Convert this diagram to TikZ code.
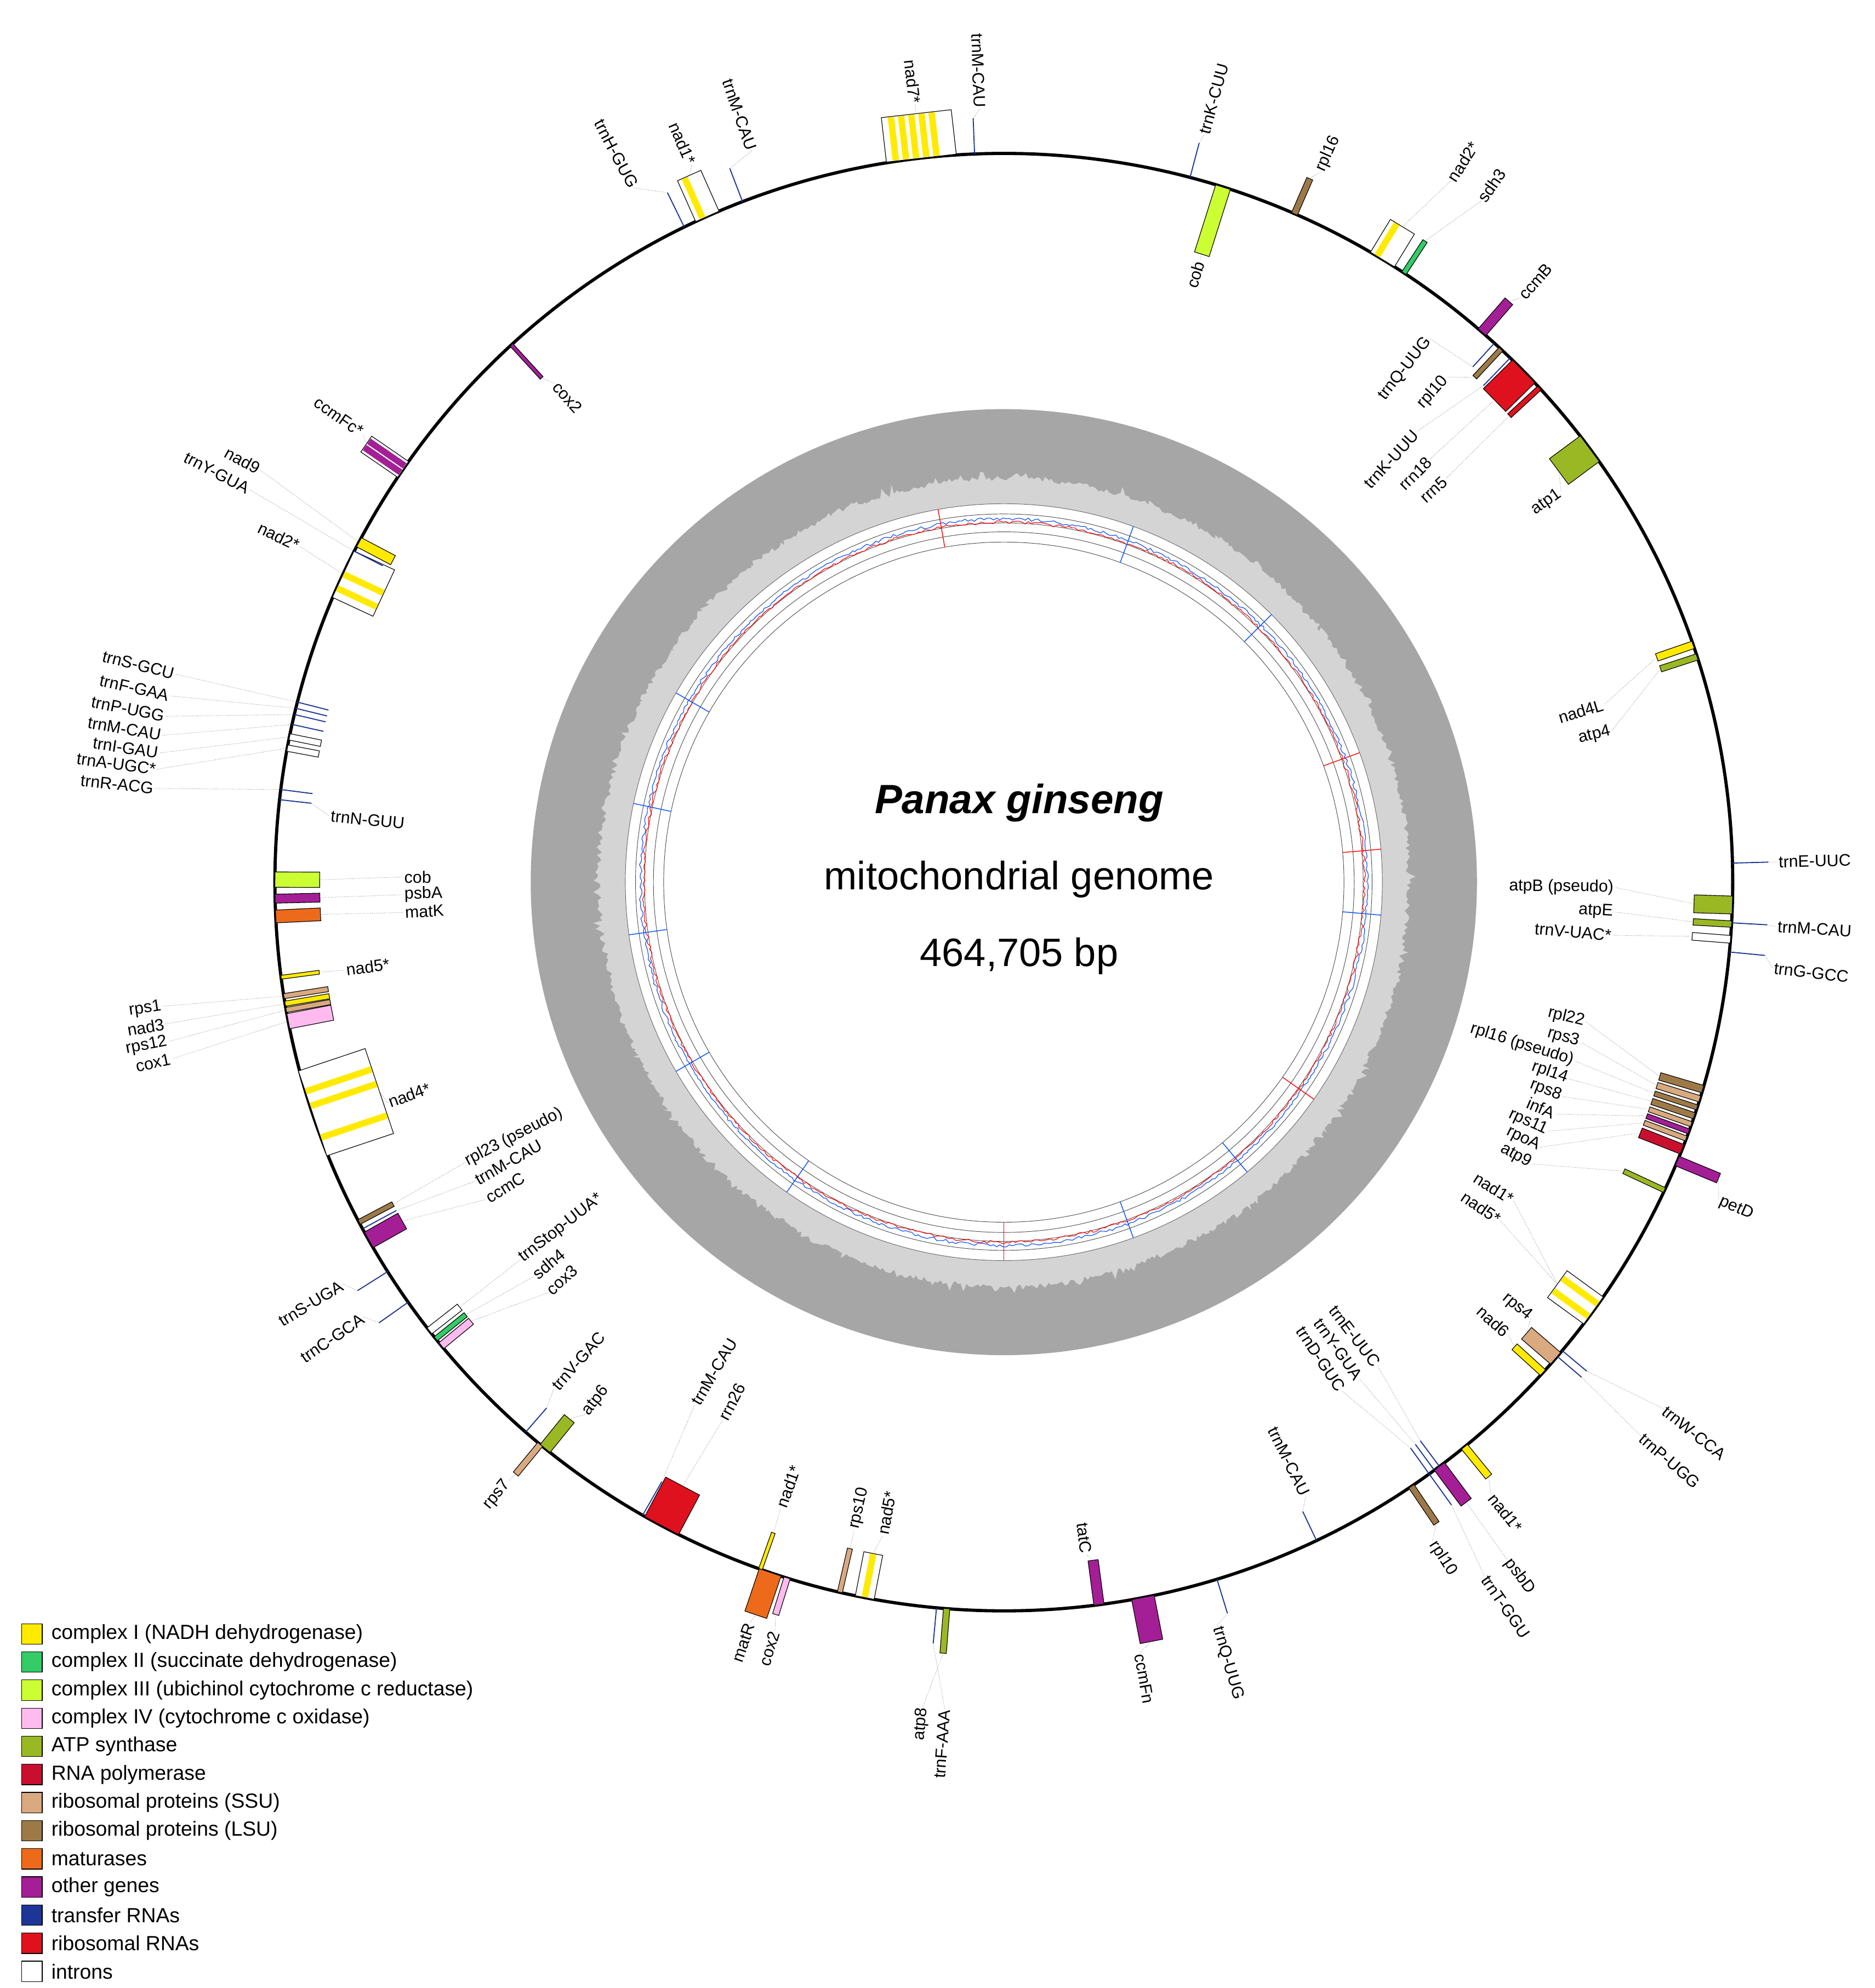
\documentclass[tikz,border=0pt]{standalone}
\usepackage{fontspec}
\setmainfont{Liberation Sans}
\definecolor{cI}{HTML}{FFEA00}
\definecolor{cII}{HTML}{33CC66}
\definecolor{cIII}{HTML}{CCFF33}
\definecolor{cIV}{HTML}{FFBBEE}
\definecolor{ATP}{HTML}{9AB824}
\definecolor{RNAP}{HTML}{C8102E}
\definecolor{SSU}{HTML}{D9A97F}
\definecolor{LSU}{HTML}{9E7948}
\definecolor{mat}{HTML}{EE6A1B}
\definecolor{other}{HTML}{A41E96}
\definecolor{tRNA}{HTML}{1C3596}
\definecolor{rRNA}{HTML}{E0111E}
\tikzset{gene/.style={draw=black,line width=0.5pt},
 trna/.style={draw=tRNA,line width=0.8pt},
 leader/.style={draw=black!60,line width=0.35pt,densely dotted},
 lab/.style={font=\fontsize{13}{14}\selectfont,inner sep=1pt},
 legtxt/.style={font=\fontsize{16}{18}\selectfont,anchor=west,inner sep=0pt}}
\newcommand\go[4]{\draw[gene,fill=#4,rotate=-#1] (-#2/2,570) rectangle (#2/2,570+#3);}
\newcommand\gi[4]{\draw[gene,fill=#4,rotate=-#1] (-#2/2,570-#3) rectangle (#2/2,570);}
\newcommand\gioi[5]{\draw[gene,fill=white,rotate=-#1] (-#2/2,570-#3) rectangle (#2/2,570);
 \foreach \s in {#5} {\fill[#4,rotate=-#1] (\s-2.5,570-#3+0.5) rectangle (\s+2.5,569.5);}}
\newcommand\gioo[5]{\draw[gene,fill=white,rotate=-#1] (-#2/2,570) rectangle (#2/2,570+#3);
 \foreach \s in {#5} {\fill[#4,rotate=-#1] (\s-2.5,570.5) rectangle (\s+2.5,570+#3-0.5);}}
\newcommand\tl[3]{\draw[trna] ({90-#1}:#2) -- ({90-#1}:#3);}
\newcommand\lo[3]{\pgfmathtruncatemacro\tmpa{#1}\ifnum\tmpa<180 \node[lab,rotate=90-#1,anchor=west] at ({90-#1}:#2) {#3};\else \node[lab,rotate=270-#1,anchor=east] at ({90-#1}:#2) {#3};\fi}
\newcommand\li[3]{\pgfmathtruncatemacro\tmpa{#1}\ifnum\tmpa<180 \node[lab,rotate=90-#1,anchor=east] at ({90-#1}:#2) {#3};\else \node[lab,rotate=270-#1,anchor=west] at ({90-#1}:#2) {#3};\fi}
\newcommand\LO[5]{\draw[leader] ({90-#1}:#2) -- ({90-#3}:#4); \lo{#3}{#4}{#5}}
\newcommand\LI[5]{\draw[leader] ({90-#1}:#2) -- ({90-#3}:#4); \li{#3}{#4}{#5}}
\begin{document}
\begin{tikzpicture}[x=1pt,y=1pt]
\useasboundingbox[fill=white] (0,0) rectangle (1466,-1555);
\begin{scope}[shift={(785,-690)}]
% inner rings
\fill[black!35] (0,0) circle (370);
\pgfmathsetseed{7}
\fill[black!17] plot[domain=0:360,samples=900] (\x:{314+4*rnd+9*rnd*rnd*rnd}) -- cycle;
\draw[black!60,line width=0.4pt,fill=white] (0,0) circle (296);
\foreach \r in {288,281,274,266} \draw[black!70,line width=0.4pt] (0,0) circle (\r);
\draw[blue!70!cyan,line width=0.5pt] plot[domain=0:360,samples=720] (\x:{283+2.5*rnd});
\draw[red,line width=0.5pt] plot[domain=0:360,samples=720] (\x:{280.5+2.5*rnd});
\foreach \a in {20,45,95,140,160,215,240,262,282,300} \draw[blue!70!cyan,line width=0.6pt] ({90-\a}:266)--({90-\a}:296);
\foreach \a in {70,85,125,180,350} \draw[red,line width=0.6pt] ({90-\a}:266)--({90-\a}:296);
% main circle
\draw[line width=2.5pt] (0,0) circle (570);
% genes
\gioo{336}{20}{35}{cI}{-4}
\tl{334}{570}{600}
\tl{339}{570}{598}
\gioo{353.5}{55}{35}{cI}{-20,-12,-4,4,12}
\tl{357.7}{570}{598}
\tl{14.8}{570}{598}
\gi{17.5}{12}{55}{cIII}
\go{23.5}{5}{30}{LSU}
\gioo{31.3}{22}{30}{cI}{-5}
\go{33.3}{4}{30}{cII}
\go{41}{8}{32}{other}
\tl{42.3}{545}{570}
\gi{43}{4}{30}{LSU}
\tl{44}{540}{570}
\gi{45.5}{25}{32}{rRNA}
\gi{47.3}{4}{32}{rRNA}
\gi{53.5}{25}{30}{ATP}
\gi{71}{6}{30}{cI}
\gi{72}{5}{30}{ATP}
\tl{88.5}{570}{598}
\gi{91.8}{14}{30}{ATP}
\gi{93.3}{5}{30}{ATP}
\gi{94.5}{6}{30}{white}
\tl{93.2}{570}{598}
\tl{95.5}{570}{598}
\gi{106.5}{6}{35}{LSU}
\gi{107.3}{5}{35}{SSU}
\gi{108}{4}{35}{LSU}
\gi{108.7}{5}{35}{LSU}
\gi{109.4}{4}{35}{SSU}
\gi{110}{4}{35}{other}
\gi{110.6}{4}{35}{SSU}
\gi{111.5}{8}{35}{RNAP}
\gi{115}{4}{35}{ATP}
\go{112.5}{8}{35}{other}
\gioi{126}{26}{35}{cI}{-6,6}
\gi{130.8}{12}{30}{SSU}
\gi{132.3}{6}{30}{cI}
\tl{130}{570}{595}
\tl{130.6}{570}{595}
\go{140.8}{6}{30}{cI}
\tl{143.3}{545}{570}
\tl{143.8}{545}{570}
\tl{144.3}{545}{570}
\go{143.3}{10}{35}{other}
\tl{144.3}{570}{600}
\go{146}{5}{35}{LSU}
\tl{154.6}{545}{570}
\tl{163}{570}{598}
\go{169}{18}{35}{other}
\gi{172.5}{8}{35}{other}
\go{184.5}{5}{35}{ATP}
\tl{185.3}{570}{598}
\gioi{191}{15}{35}{cI}{0}
\gi{193}{4}{35}{SSU}
\go{197.3}{5}{30}{cIV}
\go{198.7}{18}{35}{mat}
\gi{199.5}{3}{30}{cI}
\gi{208}{30}{35}{rRNA}
\tl{209.7}{540}{570}
\gi{219}{10}{30}{ATP}
\tl{221}{545}{570}
\go{219.5}{5}{30}{SSU}
\gi{230.5}{6}{30}{cIV}
\gi{231.2}{4}{30}{cII}
\gi{232}{6}{30}{white}
\tl{234.8}{570}{598}
\tl{237.7}{570}{598}
\gi{240.6}{14}{30}{other}
\tl{241.6}{540}{570}
\gi{242.2}{4}{30}{LSU}
\gioi{251.5}{70}{55}{cI}{-20,6,18}
\gi{261}{4}{35}{SSU}
\gi{260.4}{4}{35}{cI}
\gi{259.9}{4}{35}{SSU}
\gi{259}{12}{35}{cIV}
\gi{262.5}{3}{30}{cI}
\gi{270.2}{12}{35}{cIII}
\gi{268.7}{7}{35}{other}
\gi{267.3}{10}{35}{mat}
\tl{276.5}{545}{570}
\tl{284.3}{545}{570}
\tl{283.8}{545}{570}
\tl{283.3}{545}{570}
\tl{282.5}{545}{570}
\gi{281.5}{5}{25}{white}
\gi{280.6}{5}{25}{white}
\tl{277.3}{545}{570}
\gioi{295}{40}{35}{cI}{-12,0}
\gi{297.8}{8}{30}{cI}
\tl{297}{545}{570}
\gioo{304.5}{15}{35}{other}{-3,3}
\gi{317.5}{3}{35}{other}
% labels
\LO{334}{600}{332}{615}{trnH-GUG}
\LO{336}{605}{336.5}{612}{nad1*}
\LO{339}{598}{341}{605}{trnM-CAU}
\LO{353.5}{605}{353.5}{612}{nad7*}
\LO{357.7}{598}{358.2}{605}{trnM-CAU}
\LO{14.8}{598}{15}{605}{trnK-CUU}
\LI{17.5}{515}{17.5}{510}{cob}
\LO{23.5}{600}{24}{608}{rpl16}
\LO{31.3}{600}{32.5}{650}{nad2*}
\LO{33.3}{600}{35}{650}{sdh3}
\LO{41}{602}{41.5}{610}{ccmB}
\LI{42.3}{545}{38}{540}{trnQ-UUG}
\LI{43}{540}{41.2}{525}{rpl10}
\LI{44}{540}{42.5}{478}{trnK-UUU}
\LI{45.5}{538}{45.2}{470}{rrn18}
\LI{47.3}{538}{47.6}{468}{rrn5}
\LI{53.5}{540}{55}{532}{atp1}
\LI{71}{540}{73.5}{490}{nad4L}
\LI{72}{540}{76}{490}{atp4}
\LO{88.5}{598}{88.5}{605}{trnE-UUC}
\LI{91.8}{540}{90.5}{478}{atpB (pseudo)}
\LI{93.3}{540}{92.8}{478}{atpE}
\LI{94.5}{540}{95}{478}{trnV-UAC*}
\LO{93.2}{598}{93.3}{605}{trnM-CAU}
\LO{95.5}{598}{96.4}{605}{trnG-GCC}
\LI{106.5}{535}{103.5}{468}{rpl22}
\LI{107.3}{535}{105.5}{468}{rps3}
\LI{108}{535}{107.4}{468}{rpl16 (pseudo)}
\LI{108.7}{535}{109.2}{468}{rpl14}
\LI{109.4}{535}{111}{468}{rps8}
\LI{110}{535}{112.8}{468}{infA}
\LI{110.6}{535}{114.6}{468}{rps11}
\LI{111.5}{535}{116.3}{468}{rpoA}
\LI{115}{535}{118.1}{468}{atp9}
\LO{112.5}{605}{114}{612}{petD}
\LI{126}{535}{122}{470}{nad1*}
\LI{126}{535}{124.3}{470}{nad5*}
\LI{130.8}{540}{129.6}{535}{rps4}
\LI{132.3}{540}{131.9}{530}{nad6}
\LO{130}{595}{128.6}{660}{trnW-CCA}
\LO{130.6}{595}{131}{660}{trnP-UGG}
\LO{140.8}{600}{141.5}{612}{nad1*}
\LI{143.3}{545}{142.3}{478}{trnE-UUC}
\LI{143.8}{545}{144.4}{478}{trnY-GUA}
\LI{144.3}{545}{146.4}{478}{trnD-GUC}
\LO{143.3}{605}{143.4}{660}{psbD}
\LO{144.3}{600}{145.3}{660}{trnT-GGU}
\LO{146}{605}{147}{615}{rpl10}
\LI{154.6}{545}{153.8}{535}{trnM-CAU}
\LO{163}{598}{164}{605}{trnQ-UUG}
\LO{169}{605}{170}{612}{ccmFn}
\LI{172.5}{535}{173}{530}{tatC}
\LO{184.5}{605}{185.6}{648}{atp8}
\LO{185.3}{598}{184.1}{648}{trnF-AAA}
\LI{191}{535}{190.5}{520}{nad5*}
\LI{193}{535}{193}{520}{rps10}
\LO{197.3}{600}{197}{612}{cox2}
\LO{198.7}{605}{198.9}{612}{matR}
\LI{199.5}{540}{199.6}{520}{nad1*}
\LI{208}{535}{207.6}{475}{rrn26}
\LI{209.7}{540}{210.6}{475}{trnM-CAU}
\LI{219}{540}{218.2}{530}{atp6}
\LI{221}{545}{221.6}{530}{trnV-GAC}
\LO{219.5}{600}{219.6}{608}{rps7}
\LI{232}{540}{232}{480}{trnStop-UUA*}
\LI{231.2}{540}{230}{480}{sdh4}
\LI{230.5}{540}{228}{480}{cox3}
\LO{234.8}{598}{235.8}{605}{trnC-GCA}
\LO{237.7}{598}{238.7}{605}{trnS-UGA}
\LI{242.2}{540}{242.5}{475}{rpl23 (pseudo)}
\LI{241.6}{540}{240.5}{475}{trnM-CAU}
\LI{240.6}{540}{238.5}{475}{ccmC}
\LI{251.5}{515}{250.3}{512}{nad4*}
\LO{261}{570}{261.6}{665}{rps1}
\LO{260.4}{570}{260.4}{665}{nad3}
\LO{259.9}{570}{259.2}{665}{rps12}
\LO{259}{570}{258}{665}{cox1}
\LI{262.5}{540}{262.4}{520}{nad5*}
\LI{270.2}{535}{270.5}{470}{cob}
\LI{268.7}{535}{268.8}{470}{psbA}
\LI{267.3}{535}{267.1}{470}{matK}
\LI{276.5}{545}{275.6}{530}{trnN-GUU}
\LO{284.3}{570}{284.1}{668}{trnS-GCU}
\LO{283.8}{570}{282.6}{668}{trnF-GAA}
\LO{283.3}{570}{281.2}{668}{trnP-UGG}
\LO{282.5}{570}{279.9}{668}{trnM-CAU}
\LO{281.5}{570}{278.7}{668}{trnI-GAU}
\LO{280.6}{570}{277.6}{668}{trnA-UGC*}
\LO{277.3}{570}{276.3}{668}{trnR-ACG}
\LO{295}{570}{295.5}{610}{nad2*}
\LO{297.8}{570}{299}{665}{nad9}
\LO{297}{570}{297.5}{665}{trnY-GUA}
\LO{304.5}{605}{305}{612}{ccmFc*}
\LI{317.5}{535}{318}{525}{cox2}
% title
\node[font=\fontsize{32}{36}\selectfont\bfseries\itshape] (t1) at (12,62) {Panax ginseng};
\node[font=\fontsize{31}{36}\selectfont] (t2) at (12,2) {mitochondrial genome};
\node[font=\fontsize{31}{36}\selectfont] (t3) at (12,-58) {464,705 bp};
\end{scope}
% legend
\foreach \c/\t [count=\i from 0] in {cI/complex I (NADH dehydrogenase),cII/complex II (succinate dehydrogenase),cIII/complex III (ubichinol cytochrome c reductase),cIV/complex IV (cytochrome c oxidase),ATP/ATP synthase,RNAP/RNA polymerase,SSU/ribosomal proteins (SSU),LSU/ribosomal proteins (LSU),mat/maturases,other/other genes,tRNA/transfer RNAs,rRNA/ribosomal RNAs,white/introns}{
 \draw[gene,fill=\c] (17,{-1270-22*\i}) rectangle (33,{-1286-22*\i});
 \node[legtxt] (leg\i) at (40,{-1278-22*\i}) {\t};
}
\end{tikzpicture}
\end{document}
